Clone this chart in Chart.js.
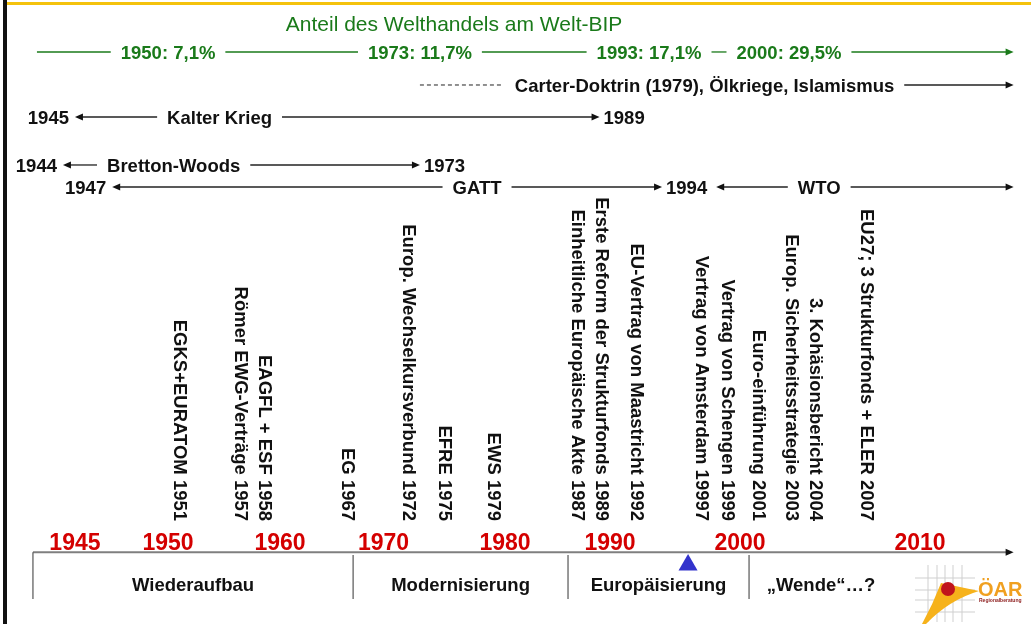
<!DOCTYPE html>
<html lang="de">
<head>
<meta charset="utf-8">
<title>Zeitleiste</title>
<script src="https://cdn.jsdelivr.net/npm/chart.js@4.4.1/dist/chart.umd.min.js"></script>
<style>
  html, body { margin: 0; padding: 0; background: #fff; }
  #wrap { width: 1031px; height: 624px; }
</style>
</head>
<body>
<div id="wrap"><canvas id="timeline" width="1031" height="624"></canvas></div>
<script>
// Daten
const tickYears = [1945, 1950, 1960, 1970, 1980, 1990, 2000, 2010]

const eventYears = [1951, 1957, 1958, 1967, 1972, 1975, 1979, 1987, 1989, 1992, 1997, 1999, 2001, 2003, 2004, 2007]
const eventLabels = [
    'EGKS+EURATOM 1951',
    'Römer EWG-Verträge 1957',
    'EAGFL + ESF 1958',
    'EG 1967',
    'Europ. Wechselkursverbund 1972',
    'EFRE 1975',
    'EWS 1979',
    'Einheitliche Europäische Akte 1987',
    'Erste Reform der Strukturfonds 1989',
    'EU-Vertrag von Maastricht 1992',
    'Vertrag von Amsterdam 19997',
    'Vertrag von Schengen 1999',
    'Euro-einführung 2001',
    'Europ. Sicherheitsstrategie 2003',
    '3. Kohäsionsbericht 2004',
    'EU27; 3 Strukturfonds + ELER 2007'
]

const tradeTitle = 'Anteil des Welthandels am Welt-BIP'
const tradeYears = [1950, 1973, 1993, 2000]
const tradeShare = [7.1, 11.7, 17.1, 29.5]

const spanLabels = ['Kalter Krieg', 'Bretton-Woods', 'GATT', 'WTO']
const spanFrom = [1945, 1944, 1947, 1994]
const spanTo = [1989, 1973, 1994, null]
const spanLabelAt = [1954.6, 1950.5, 1977.7, 2004.4]

const carterLabel = 'Carter-Doktrin (1979), Ölkriege, Islamismus'
const carterFrom = 1973
const carterYear = 1979

const periodNames = ['Wiederaufbau', 'Modernisierung', 'Europäisierung', '„Wende“…?']
const periodBounds = [1941.5, 1967.5, 1986, 2000.5, 2008.5]

const markerYear = 1996
const axisStart = 1941.5
const axisEnd = 2015.2

// Layout (Zeilen in % der Höhe, Zeitachse stückweise linear)
const rowY = {
    title: 4.97, trade: 8.33, carter: 13.62, kalter: 18.75, bretton: 26.44, gatt: 29.97,
    eventBase: 83.5, tickBase: 88.22, axis: 88.51, marker: 90.54,
    sepTop: 88.94, sepBottom: 95.99, periodBase: 94.71
}
const spanRows = ['kalter', 'bretton', 'gatt', 'gatt']
const warpKnots = [
    [1940, 0.0145], [1945, 0.0727], [1950, 0.1630], [1960, 0.2716], [1967, 0.3366],
    [1980, 0.4898], [1990, 0.5917], [2000, 0.7178], [2010, 0.8923], [2016, 0.9971]
]
const eventMinGap = 24

const FONT = "'Liberation Sans', Arial, sans-serif"
const LABEL = `bold 18.5px ${FONT}`
const GREEN = '#1a7a1a'
const RED = '#d40000'
const INK = '#111'

class WarpScale extends Chart.LinearScale {
    static id = 'warp'
    static defaults = Chart.LinearScale.defaults
    getPixelForValue(value) {
        let k = warpKnots
        let i = 0
        while (i < k.length - 2 && value > k[i + 1][0]) i++
        let t = (value - k[i][0]) / (k[i + 1][0] - k[i][0])
        let frac = k[i][1] + t * (k[i + 1][1] - k[i][1])
        return this.left + frac * this.width
    }
    getValueForPixel(pixel) {
        let k = warpKnots
        let frac = (pixel - this.left) / this.width
        let i = 0
        while (i < k.length - 2 && frac > k[i + 1][1]) i++
        let t = (frac - k[i][1]) / (k[i + 1][1] - k[i][1])
        return k[i][0] + t * (k[i + 1][0] - k[i][0])
    }
}
Chart.register(WarpScale)

const arrowHead = (ctx, x, y, dir, color) => {
    ctx.fillStyle = color
    ctx.beginPath()
    ctx.moveTo(x, y)
    ctx.lineTo(x - dir * 8, y - 3.5)
    ctx.lineTo(x - dir * 8, y + 3.5)
    ctx.closePath()
    ctx.fill()
}

const hLine = (ctx, x0, x1, y, color, width, dash) => {
    ctx.save()
    ctx.strokeStyle = color
    ctx.lineWidth = width
    if (dash) ctx.setLineDash(dash)
    ctx.beginPath()
    ctx.moveTo(x0, y)
    ctx.lineTo(x1, y)
    ctx.stroke()
    ctx.restore()
}

// senkrechte Beschriftungen auseinanderschieben, wenn sie zu eng stehen
const spreadPositions = (positions, gap) => {
    let p = positions.slice()
    for (let pass = 0; pass < 20; pass++) {
        for (let i = 1; i < p.length; i++) {
            let d = p[i] - p[i - 1]
            if (d < gap) {
                let s = (gap - d) / 2
                p[i - 1] -= s
                p[i] += s
            }
        }
    }
    return p
}

const drawLogo = (ctx, chart) => {
    let ox = chart.width - 110
    let oy = chart.height - 46
    ctx.save()
    ctx.strokeStyle = '#cfcfcf'
    ctx.lineWidth = 1
    ;[7, 16, 24, 32, 41].forEach(dx => {
        ctx.beginPath(); ctx.moveTo(ox + dx, oy - 13); ctx.lineTo(ox + dx, oy + 44); ctx.stroke()
    })
    ;[0, 12, 22, 34].forEach(dy => {
        ctx.beginPath(); ctx.moveTo(ox - 6, oy + dy); ctx.lineTo(ox + 54, oy + dy); ctx.stroke()
    })
    ctx.fillStyle = '#f6b21b'
    ctx.beginPath()
    ctx.moveTo(ox + 20, oy + 5)
    ctx.lineTo(ox + 58, oy + 13)
    ctx.quadraticCurveTo(ox + 28, oy + 22, ox + 5, oy + 46)
    ctx.lineTo(ox + 1, oy + 46)
    ctx.quadraticCurveTo(ox + 12, oy + 26, ox + 20, oy + 5)
    ctx.closePath()
    ctx.fill()
    ctx.fillStyle = '#c0141c'
    ctx.beginPath()
    ctx.arc(ox + 27, oy + 11, 7, 0, Math.PI * 2)
    ctx.fill()
    ctx.fillStyle = '#f0a020'
    ctx.font = `bold 20px ${FONT}`
    ctx.textAlign = 'left'
    ctx.textBaseline = 'alphabetic'
    ctx.fillText('ÖAR', ox + 57, oy + 18)
    ctx.fillStyle = '#8b1a1a'
    ctx.font = `bold 5px ${FONT}`
    ctx.fillText('Regionalberatung', ox + 58, oy + 24)
    ctx.restore()
}

const slidePlugin = {
    id: 'slide',
    beforeDatasetsDraw(chart) {
        const ctx = chart.ctx
        const xs = chart.scales.x
        const ys = chart.scales.y
        const X = v => xs.getPixelForValue(v)
        const Y = v => ys.getPixelForValue(v)
        ctx.save()

        // Rahmen
        ctx.fillStyle = '#111'
        ctx.fillRect(3, 0, 4, chart.height)
        ctx.fillStyle = '#f4c20d'
        ctx.fillRect(7, 2, chart.width - 7, 3)

        // Titel + Welthandel
        ctx.fillStyle = GREEN
        ctx.font = `21px ${FONT}`
        ctx.textAlign = 'center'
        ctx.textBaseline = 'alphabetic'
        ctx.fillText(tradeTitle, (X(tradeYears[0]) + X(tradeYears[tradeYears.length - 1])) / 2, Y(rowY.title))

        ctx.font = LABEL
        let ty = Y(rowY.trade)
        let prevRight = X(axisStart) + 4
        let lastRight = null
        tradeYears.forEach((year, i) => {
            let txt = `${year}: ${String(tradeShare[i]).replace('.', ',')}%`
            let w = ctx.measureText(txt).width
            let left = X(year) - w / 2
            if (lastRight !== null && left < lastRight + 35) left = lastRight + 35
            hLine(ctx, prevRight, left - 10, ty, GREEN, 1.3)
            ctx.fillStyle = GREEN
            ctx.textAlign = 'left'
            ctx.fillText(txt, left, ty + 7)
            lastRight = left + w
            prevRight = lastRight + 10
        })
        hLine(ctx, prevRight, X(axisEnd) - 6, ty, GREEN, 1.3)
        arrowHead(ctx, X(axisEnd), ty, 1, GREEN)

        // Carter-Doktrin
        let cy = Y(rowY.carter)
        let cx = X(carterYear) + 10
        hLine(ctx, X(carterFrom), cx, cy, '#222', 1, [4, 3])
        ctx.fillStyle = INK
        ctx.textAlign = 'left'
        ctx.fillText(carterLabel, cx + 12, cy + 7)
        let cw = ctx.measureText(carterLabel).width
        hLine(ctx, cx + 12 + cw + 10, X(axisEnd) - 6, cy, '#222', 1.3)
        arrowHead(ctx, X(axisEnd), cy, 1, '#111')

        // Zeitspannen
        spanLabels.forEach((label, i) => {
            let y = Y(rowY[spanRows[i]])
            ctx.font = LABEL
            ctx.fillStyle = INK
            let x0 = X(spanFrom[i])
            let shared = spanTo.findIndex((t, j) => j !== i && t === spanFrom[i] && spanRows[j] === spanRows[i])
            if (shared >= 0) {
                x0 += 5 + ctx.measureText(String(spanFrom[i])).width + 8
            } else {
                ctx.textAlign = 'right'
                ctx.fillText(String(spanFrom[i]), x0 - 6, y + 7)
            }
            let x1 = spanTo[i] === null ? X(axisEnd) : X(spanTo[i])
            if (spanTo[i] !== null) {
                ctx.textAlign = 'left'
                ctx.fillText(String(spanTo[i]), x1 + 4, y + 7)
            }
            let lx = X(spanLabelAt[i])
            let w = ctx.measureText(label).width
            ctx.textAlign = 'center'
            ctx.fillText(label, lx, y + 7)
            hLine(ctx, x0 + 6, lx - w / 2 - 10, y, '#222', 1.3)
            hLine(ctx, lx + w / 2 + 10, x1 - 6, y, '#222', 1.3)
            arrowHead(ctx, x0, y, -1, '#111')
            arrowHead(ctx, x1, y, 1, '#111')
        })

        // Ereignisse (senkrecht)
        ctx.font = LABEL
        ctx.fillStyle = INK
        let eventX = spreadPositions(eventYears.map(X), eventMinGap)
        eventYears.forEach((year, i) => {
            ctx.save()
            ctx.translate(eventX[i], Y(rowY.eventBase))
            ctx.rotate(Math.PI / 2)
            ctx.textAlign = 'right'
            ctx.textBaseline = 'middle'
            ctx.fillText(eventLabels[i], 0, 0)
            ctx.restore()
        })

        // Zeitachse
        let ay = Y(rowY.axis)
        ctx.font = `bold 23px ${FONT}`
        ctx.fillStyle = RED
        ctx.textAlign = 'center'
        ctx.textBaseline = 'alphabetic'
        tickYears.forEach(year => ctx.fillText(String(year), X(year), Y(rowY.tickBase)))
        hLine(ctx, X(axisStart), X(axisEnd) - 6, ay, '#7f7f7f', 2)
        arrowHead(ctx, X(axisEnd), ay, 1, '#111')

        ctx.strokeStyle = '#555'
        ctx.lineWidth = 1.2
        periodBounds.slice(0, -1).forEach((b, i) => {
            ctx.beginPath()
            ctx.moveTo(X(b), i === 0 ? ay : Y(rowY.sepTop))
            ctx.lineTo(X(b), Y(rowY.sepBottom))
            ctx.stroke()
        })
        ctx.font = LABEL
        ctx.fillStyle = INK
        periodNames.forEach((name, i) => {
            ctx.fillText(name, (X(periodBounds[i]) + X(periodBounds[i + 1])) / 2, Y(rowY.periodBase))
        })

        drawLogo(ctx, chart)
        ctx.restore()
    }
}

new Chart(document.getElementById('timeline'), {
    type: 'scatter',
    data: {
        datasets: [{
            data: [{ x: markerYear, y: rowY.marker }],
            pointStyle: 'triangle',
            pointRadius: 11,
            backgroundColor: '#3333cc',
            borderColor: '#3333cc',
            borderWidth: 0,
            clip: false
        }]
    },
    options: {
        responsive: false,
        animation: false,
        devicePixelRatio: 1,
        events: [],
        layout: { padding: 0, autoPadding: false },
        plugins: { legend: { display: false }, tooltip: { enabled: false } },
        scales: {
            x: { type: 'warp', min: 1940, max: 2016, display: false },
            y: { type: 'linear', min: 0, max: 100, reverse: true, display: false }
        }
    },
    plugins: [slidePlugin]
})
</script>
</body>
</html>
